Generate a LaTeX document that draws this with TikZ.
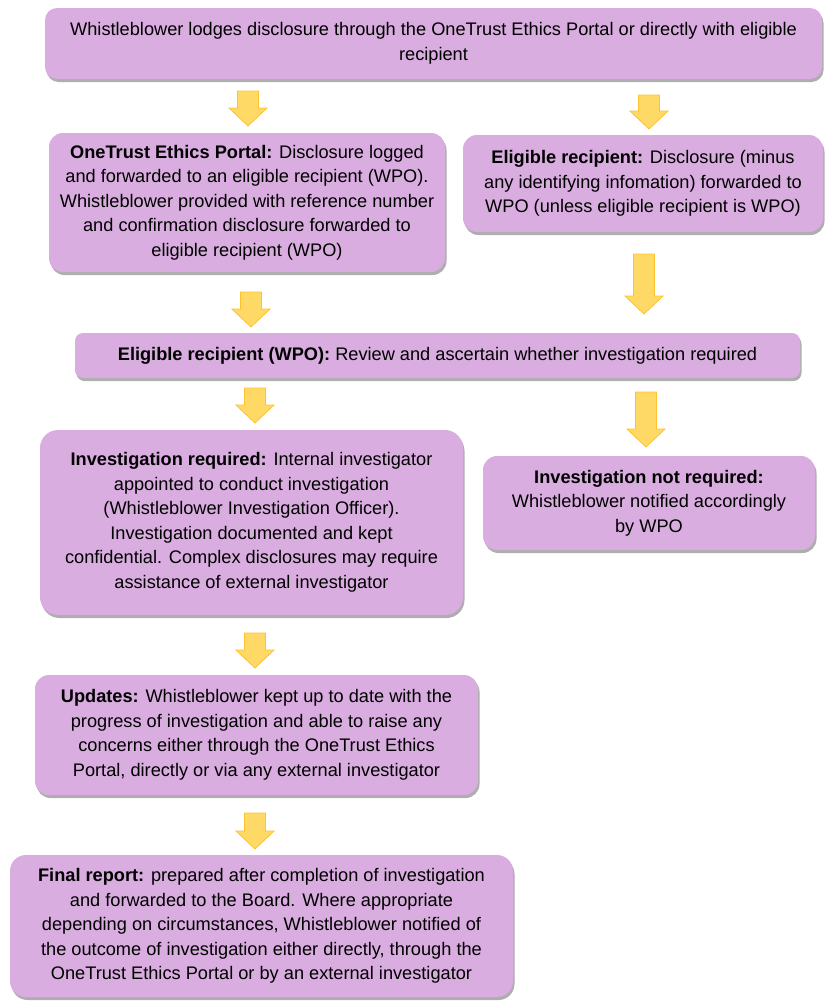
\documentclass[tikz,border=0pt]{standalone}
\usepackage{fontspec}
\setmainfont{Liberation Sans}
\usetikzlibrary{shadows}
\definecolor{boxfill}{HTML}{D9ADDF}
\definecolor{arrfill}{HTML}{FFD966}
\definecolor{arrline}{HTML}{FFC12E}
\tikzset{
  flowbox/.style={draw=none, fill=boxfill, rounded corners=14pt, align=center,
    inner sep=0pt, text=black,
    drop shadow={shadow xshift=1.5pt, shadow yshift=-3pt, fill=black!70, opacity=.45}},
  downarr/.style={fill=arrfill, draw=arrline, line width=.8pt, line join=miter}
}
\begin{document}
\begin{tikzpicture}[x=1pt, y=-1pt, font=\fontsize{18.2}{24.5}\selectfont]
  \useasboundingbox (0,0) rectangle (825,1004);
  % boxes
  \node[flowbox, minimum width=777pt, minimum height=71pt, rounded corners=12pt] (lodge) at (433.5,43.5)
    {Whistleblower lodges disclosure through the OneTrust Ethics Portal or directly with eligible\\recipient};
  \node[flowbox, minimum width=396pt, minimum height=139pt] (portal) at (247,202.5)
    {\textbf{OneTrust Ethics Portal:} Disclosure logged\\and forwarded to an eligible recipient (WPO).\\Whistleblower provided with reference number\\and confirmation disclosure forwarded to\\eligible recipient (WPO)};
  \node[flowbox, minimum width=360pt, minimum height=97pt] (direct) at (643,183.5)
    {\textbf{Eligible recipient:} Disclosure (minus\\any identifying infomation) forwarded to\\WPO (unless eligible recipient is WPO)};
  \node[flowbox, minimum width=725pt, minimum height=45pt, rounded corners=8pt] (review) at (437.5,355.5)
    {\textbf{Eligible recipient (WPO):} Review and ascertain whether investigation required};
  \node[flowbox, minimum width=423pt, minimum height=185pt, rounded corners=18pt] (invreq) at (251.5,522.5)
    {\textbf{Investigation required:} Internal investigator\\appointed to conduct investigation\\(Whistleblower Investigation Officer).\\Investigation documented and kept\\confidential. Complex disclosures may require\\assistance of external investigator};
  \node[flowbox, minimum width=332pt, minimum height=94pt] (invnot) at (649,503)
    {\textbf{Investigation not required:}\\Whistleblower notified accordingly\\by WPO};
  \node[flowbox, minimum width=443pt, minimum height=120pt] (updates) at (256.5,735)
    {\textbf{Updates:} Whistleblower kept up to date with the\\progress of investigation and able to raise any\\concerns either through the OneTrust Ethics\\Portal, directly or via any external investigator};
  \node[flowbox, minimum width=503pt, minimum height=142pt, rounded corners=16pt] (final) at (261.5,926)
    {\textbf{Final report:} prepared after completion of investigation\\and forwarded to the Board. Where appropriate\\depending on circumstances, Whistleblower notified of\\the outcome of investigation either directly, through the\\OneTrust Ethics Portal or by an external investigator};
  % block arrows: x / top / bottom
  \foreach \x/\ya/\yb in {248/91/126, 649/95/129, 251/292/327, 644/254/314,
                          255/388/423, 646/392/447, 255/633/668, 255/813/849}
    \draw[downarr] (\x-10.5,\ya) -- (\x+10.5,\ya) -- (\x+10.5,\yb-18) -- (\x+19,\yb-18)
      -- (\x,\yb) -- (\x-19,\yb-18) -- (\x-10.5,\yb-18) -- cycle;
\end{tikzpicture}
\end{document}
